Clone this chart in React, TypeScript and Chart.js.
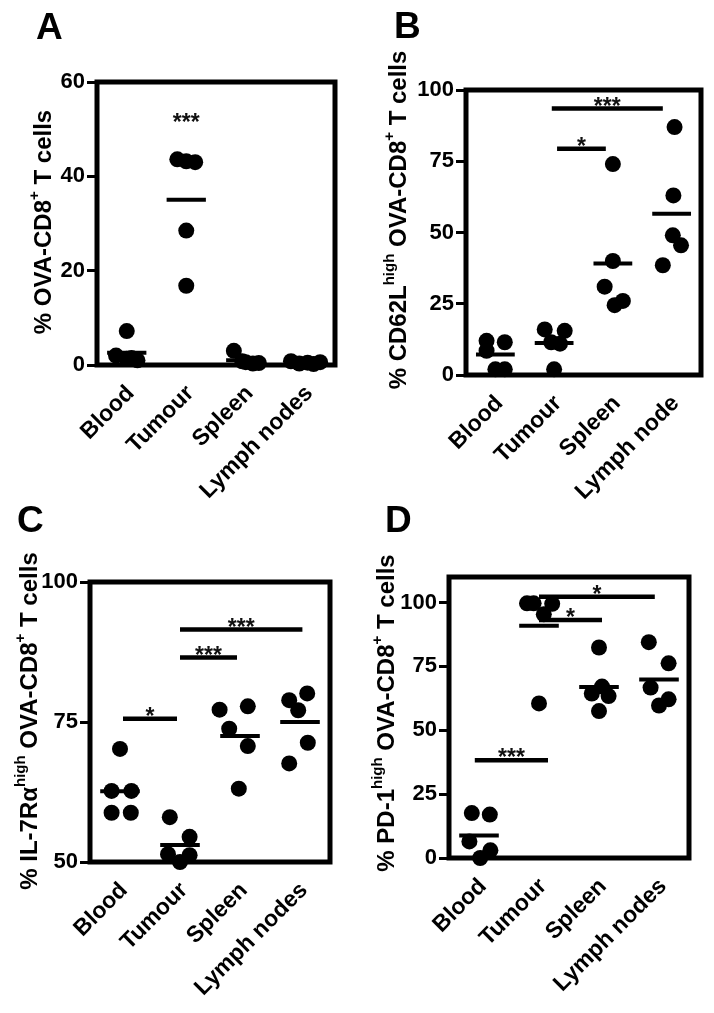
import React, { useEffect, useRef } from 'react';
import { Chart, registerables } from 'chart.js';

Chart.register(...registerables);

const FONT = "'Liberation Sans', Arial, Helvetica, sans-serif";

// ---------- categories ----------
const CATEGORIES = ['Blood', 'Tumour', 'Spleen', 'Lymph nodes'];
const CATEGORIES_B = ['Blood', 'Tumour', 'Spleen', 'Lymph node'];

// ---------- Panel A: % OVA-CD8+ T cells ----------
const A_BLOOD = [7.2, 2.0, 1.3, 1.0, 1.5];
const A_TUMOUR = [43.6, 43.2, 43.0, 28.5, 16.8];
const A_SPLEEN = [3.0, 0.6, 0.3, 0.4, 0.8];
const A_LYMPH = [0.8, 0.3, 0.5, 0.2, 0.6];
const A_TICKS = [0, 20, 40, 60];
const A_SIG = [{ from: 1, to: 1, y: 50.8, label: '***', line: false }];

// ---------- Panel B: % CD62L high ----------
const B_BLOOD = [12, 8.5, 11.5, 2, 2];
const B_TUMOUR = [16, 15.5, 11.5, 11, 2];
const B_SPLEEN = [74, 40, 31, 24.5, 26];
const B_LYMPH = [87, 63, 49, 45.5, 38.5];
const B_TICKS = [0, 25, 50, 75, 100];
const B_SIG = [
  { from: 0.96, to: 2.85, y: 93.5, label: '***', line: true },
  { from: 1.05, to: 1.88, y: 79.4, label: '*', line: true },
];

// ---------- Panel C: % IL-7Ra high ----------
const C_BLOOD = [70.2, 62.7, 62.7, 58.8, 58.8];
const C_TUMOUR = [58.0, 54.5, 51.4, 51.2, 50.0];
const C_SPLEEN = [77.2, 77.8, 73.8, 70.7, 63.1];
const C_LYMPH = [80.1, 78.9, 77.1, 71.3, 67.6];
const C_TICKS = [50, 75, 100];
const C_SIG = [
  { from: 0.05, to: 0.95, y: 75.6, label: '*', line: true },
  { from: 1.0, to: 1.95, y: 86.5, label: '***', line: true },
  { from: 1.0, to: 3.04, y: 91.5, label: '***', line: true },
];

// ---------- Panel D: % PD-1 high ----------
const D_BLOOD = [17.6, 17.0, 6.5, 3.0, 0];
const D_TUMOUR = [99.7, 99.7, 99.5, 95.4, 60.5];
const D_SPLEEN = [82.4, 67.1, 64.4, 63.4, 57.5];
const D_LYMPH = [84.5, 76.2, 66.7, 62.1, 59.7];
const D_TICKS = [0, 25, 50, 75, 100];
const D_SIG = [
  { from: -0.07, to: 1.15, y: 38.3, label: '***', line: true },
  { from: 1.0, to: 2.05, y: 93.2, label: '*', line: true },
  { from: 1.0, to: 2.93, y: 102.3, label: '*', line: true },
];

// horizontal spread of dots within each column (style only)
const SPREAD_A = [
  [0, -0.18, 0.0, 0.18, 0.08],
  [-0.15, 0.0, 0.15, 0.0, 0.0],
  [-0.2, 0.0, 0.12, 0.22, -0.06],
  [-0.24, -0.1, 0.04, 0.14, 0.25],
];
const SPREAD_B = [
  [-0.15, -0.15, 0.16, 0.0, 0.16],
  [-0.16, 0.18, -0.05, 0.1, 0.0],
  [0.0, 0.0, -0.14, 0.03, 0.17],
  [0.05, 0.03, 0.02, 0.16, -0.15],
];
const SPREAD_C = [
  [0.0, -0.14, 0.19, -0.14, 0.18],
  [-0.17, 0.16, -0.2, 0.16, 0.0],
  [-0.34, 0.13, -0.18, 0.13, -0.02],
  [0.12, -0.18, -0.03, 0.13, -0.18],
];
const SPREAD_D = [
  [-0.12, 0.18, -0.16, 0.19, 0.02],
  [-0.2, -0.09, 0.22, 0.08, 0.0],
  [0.0, 0.05, -0.12, 0.16, 0.0],
  [-0.17, 0.16, -0.14, 0.16, 0.0],
];

type Seg = [string, boolean];
type Sig = { from: number; to: number; y: number; label: string; line: boolean };

type PanelDef = {
  letter: string;
  letterX: number;
  letterY: number;
  left: number;
  top: number;
  w: number;
  h: number;
  padTop: number;
  padRight: number;
  yWidth: number;
  xHeight: number;
  yMin: number;
  yMax: number;
  ticks: number[];
  cats: string[];
  groups: number[][];
  spread: number[][];
  sig: Sig[];
  title: Seg[];
  titleX: number;
  titleY: number;
};

const PANELS: PanelDef[] = [
  {
    letter: 'A', letterX: 36, letterY: 39,
    left: 0, top: 0, w: 357, h: 500,
    padTop: 82, padRight: 22, yWidth: 97, xHeight: 135,
    yMin: 0, yMax: 60, ticks: A_TICKS, cats: CATEGORIES,
    groups: [A_BLOOD, A_TUMOUR, A_SPLEEN, A_LYMPH], spread: SPREAD_A, sig: A_SIG,
    title: [['% OVA-CD8', false], ['+', true], [' T cells', false]],
    titleX: 42, titleY: 222,
  },
  {
    letter: 'B', letterX: 37, letterY: 38,
    left: 357, top: 0, w: 357, h: 500,
    padTop: 90, padRight: 13, yWidth: 109, xHeight: 125,
    yMin: 0, yMax: 100, ticks: B_TICKS, cats: CATEGORIES_B,
    groups: [B_BLOOD, B_TUMOUR, B_SPLEEN, B_LYMPH], spread: SPREAD_B, sig: B_SIG,
    title: [['% CD62L', false], ['high', true], [' OVA-CD8', false], ['+', true], [' T cells', false]],
    titleX: 40, titleY: 220,
  },
  {
    letter: 'C', letterX: 17, letterY: 32,
    left: 0, top: 500, w: 357, h: 513,
    padTop: 82, padRight: 27, yWidth: 90, xHeight: 151,
    yMin: 50, yMax: 100, ticks: C_TICKS, cats: CATEGORIES,
    groups: [C_BLOOD, C_TUMOUR, C_SPLEEN, C_LYMPH], spread: SPREAD_C, sig: C_SIG,
    title: [['% IL-7Rα', false], ['high', true], [' OVA-CD8', false], ['+', true], [' T cells', false]],
    titleX: 28, titleY: 221,
  },
  {
    letter: 'D', letterX: 28, letterY: 32,
    left: 357, top: 500, w: 357, h: 513,
    padTop: 77, padRight: 25, yWidth: 92, xHeight: 155,
    yMin: 0, yMax: 110, ticks: D_TICKS, cats: CATEGORIES,
    groups: [D_BLOOD, D_TUMOUR, D_SPLEEN, D_LYMPH], spread: SPREAD_D, sig: D_SIG,
    title: [['% PD-1', false], ['high', true], [' OVA-CD8', false], ['+', true], [' T cells', false]],
    titleX: 28, titleY: 213,
  },
];

const mean = (a: number[]) => a.reduce((s, v) => s + v, 0) / a.length;

function drawTitle(ctx: CanvasRenderingContext2D, segs: Seg[], cx: number, cy: number, fs: number) {
  ctx.save();
  ctx.translate(cx, cy);
  ctx.rotate(-Math.PI / 2);
  ctx.fillStyle = '#000';
  const main = `bold ${fs}px ${FONT}`;
  const sup = `bold ${Math.round(fs * 0.62)}px ${FONT}`;
  let total = 0;
  for (const [t, s] of segs) {
    ctx.font = s ? sup : main;
    total += ctx.measureText(t).width;
  }
  let x = -total / 2;
  const base = fs * 0.36;
  ctx.textAlign = 'left';
  ctx.textBaseline = 'alphabetic';
  for (const [t, s] of segs) {
    ctx.font = s ? sup : main;
    ctx.fillText(t, x, s ? base - fs * 0.5 : base);
    x += ctx.measureText(t).width;
  }
  ctx.restore();
}

function buildConfig(p: PanelDef): any {
  const datasets: any[] = [];
  const pts: { x: number; y: number }[] = [];
  p.groups.forEach((g, i) => g.forEach((v, j) => pts.push({ x: i + p.spread[i][j], y: v })));
  datasets.push({
    data: pts,
    pointRadius: 8,
    pointBackgroundColor: '#000',
    pointBorderWidth: 0,
    showLine: false,
    clip: false,
  });
  p.groups.forEach((g, i) => {
    const m = mean(g);
    datasets.push({
      data: [{ x: i - 0.33, y: m }, { x: i + 0.33, y: m }],
      showLine: true,
      borderColor: '#000',
      borderWidth: 4,
      borderCapStyle: 'butt',
      pointRadius: 0,
      clip: false,
    });
  });
  p.sig.filter((s) => s.line).forEach((s) => {
    datasets.push({
      data: [{ x: s.from, y: s.y }, { x: s.to, y: s.y }],
      showLine: true,
      borderColor: '#000',
      borderWidth: 4.5,
      borderCapStyle: 'butt',
      pointRadius: 0,
      clip: false,
    });
  });

  const panelPlugin = {
    id: 'panelDeco' + p.letter,
    afterDatasetsDraw(chart: any) {
      const { ctx, chartArea, scales } = chart;
      ctx.save();
      ctx.strokeStyle = '#000';
      ctx.lineWidth = 5;
      ctx.strokeRect(chartArea.left, chartArea.top, chartArea.right - chartArea.left, chartArea.bottom - chartArea.top);
      ctx.fillStyle = '#111';
      ctx.font = `bold 23px ${FONT}`;
      ctx.textAlign = 'center';
      ctx.textBaseline = 'alphabetic';
      for (const s of p.sig) {
        const cx = scales.x.getPixelForValue((s.from + s.to) / 2);
        const cy = scales.y.getPixelForValue(s.y);
        ctx.fillText(s.label, cx, cy + 5);
      }
      ctx.restore();
    },
    afterDraw(chart: any) {
      const { ctx } = chart;
      ctx.save();
      ctx.fillStyle = '#000';
      ctx.font = `bold 37px ${FONT}`;
      ctx.textAlign = 'left';
      ctx.textBaseline = 'alphabetic';
      ctx.fillText(p.letter, p.letterX, p.letterY);
      ctx.restore();
      drawTitle(ctx, p.title, p.titleX, p.titleY, 24);
    },
  };

  return {
    type: 'scatter',
    data: { datasets },
    options: {
      animation: false,
      responsive: false,
      events: [],
      layout: { padding: { top: p.padTop, right: p.padRight, left: 0, bottom: 0 } },
      plugins: { legend: { display: false }, tooltip: { enabled: false }, title: { display: false } },
      scales: {
        x: {
          type: 'linear',
          min: -0.5,
          max: 3.5,
          afterFit: (s: any) => { s.height = p.xHeight; },
          afterBuildTicks: (s: any) => { s.ticks = p.cats.map((_, i) => ({ value: i })); },
          grid: { display: false, drawTicks: false },
          border: { display: false },
          ticks: {
            autoSkip: false,
            minRotation: 45,
            maxRotation: 45,
            padding: 15,
            labelOffset: 4,
            color: '#000',
            font: { family: FONT, size: 23, weight: 'bold' },
            callback: (v: any) => p.cats[Math.round(Number(v))] ?? '',
          },
        },
        y: {
          type: 'linear',
          min: p.yMin,
          max: p.yMax,
          afterFit: (s: any) => { s.width = p.yWidth; },
          afterBuildTicks: (s: any) => { s.ticks = p.ticks.map((v) => ({ value: v })); },
          grid: { display: true, drawOnChartArea: false, drawTicks: true, tickLength: 10, lineWidth: 3, color: '#000' },
          border: { display: false },
          ticks: {
            padding: 2,
            color: '#000',
            font: { family: FONT, size: 22, weight: 'bold' },
            callback: (v: any) => String(v),
          },
        },
      },
    },
    plugins: [panelPlugin],
  };
}

function PanelChart({ p }: { p: PanelDef }) {
  const ref = useRef<HTMLCanvasElement | null>(null);
  useEffect(() => {
    if (!ref.current) return;
    const chart = new Chart(ref.current, buildConfig(p));
    return () => chart.destroy();
  }, [p]);
  return (
    <canvas
      ref={ref}
      width={p.w}
      height={p.h}
      style={{ position: 'absolute', left: p.left, top: p.top, width: p.w, height: p.h }}
    />
  );
}

export default function App() {
  return (
    <div style={{ position: 'absolute', left: 0, top: 0, width: 714, height: 1013, background: '#fff' }}>
      {PANELS.map((p) => (
        <PanelChart key={p.letter} p={p} />
      ))}
    </div>
  );
}
